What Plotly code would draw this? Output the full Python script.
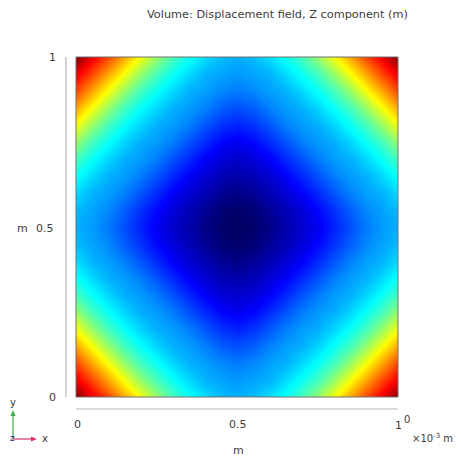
import numpy as np
import plotly.graph_objects as go

# Grid coordinates (x in 1e-3 m, y in m), 0.05 spacing
x_vals = [0.00, 0.05, 0.10, 0.15, 0.20, 0.25, 0.30, 0.35, 0.40, 0.45, 0.50,
          0.55, 0.60, 0.65, 0.70, 0.75, 0.80, 0.85, 0.90, 0.95, 1.00]
y_vals = [0.00, 0.05, 0.10, 0.15, 0.20, 0.25, 0.30, 0.35, 0.40, 0.45, 0.50,
          0.55, 0.60, 0.65, 0.70, 0.75, 0.80, 0.85, 0.90, 0.95, 1.00]

# Relative Z displacement on one quadrant of the symmetric field.
# Row k: |y - 0.5| = 0.05*k ; column m: |x - 0.5| = 0.05*m
quadrant_w = [
    [0.000, 0.009, 0.030, 0.059, 0.084, 0.113, 0.156, 0.201, 0.245, 0.276, 0.297],
    [0.009, 0.018, 0.042, 0.069, 0.095, 0.129, 0.173, 0.217, 0.258, 0.285, 0.309],
    [0.030, 0.042, 0.066, 0.090, 0.120, 0.164, 0.208, 0.251, 0.281, 0.301, 0.341],
    [0.059, 0.069, 0.090, 0.119, 0.161, 0.204, 0.248, 0.278, 0.299, 0.337, 0.386],
    [0.084, 0.095, 0.120, 0.161, 0.203, 0.246, 0.277, 0.298, 0.335, 0.383, 0.441],
    [0.113, 0.129, 0.164, 0.204, 0.246, 0.276, 0.297, 0.334, 0.382, 0.439, 0.523],
    [0.156, 0.173, 0.208, 0.248, 0.277, 0.297, 0.334, 0.381, 0.439, 0.522, 0.619],
    [0.201, 0.217, 0.251, 0.278, 0.298, 0.334, 0.381, 0.438, 0.521, 0.618, 0.713],
    [0.245, 0.258, 0.281, 0.299, 0.335, 0.382, 0.439, 0.521, 0.618, 0.713, 0.807],
    [0.276, 0.285, 0.301, 0.337, 0.383, 0.439, 0.522, 0.618, 0.713, 0.807, 0.890],
    [0.297, 0.309, 0.341, 0.386, 0.441, 0.523, 0.619, 0.713, 0.807, 0.890, 1.000],
]

# Mirror the quadrant into the full square grid
q = np.array(quadrant_w)
half = np.hstack([q[:, ::-1], q[:, 1:]])
w_full = np.vstack([half[::-1], half[1:]])

rainbow = [
    [0.000, "rgb(0,0,95)"],
    [0.125, "rgb(0,0,255)"],
    [0.375, "rgb(0,255,255)"],
    [0.500, "rgb(128,255,128)"],
    [0.625, "rgb(255,255,0)"],
    [0.875, "rgb(255,0,0)"],
    [1.000, "rgb(128,0,0)"],
]

W = H = 461

def px(x):
    return x / W

def py(y):
    return 1 - y / H

fig = go.Figure(go.Heatmap(
    x=x_vals, y=y_vals, z=w_full,
    colorscale=rainbow, zmin=0, zmax=1,
    zsmooth="best", showscale=False, hoverinfo="skip",
))

left, right, top, bottom = 76, 398, 57, 397

fig.update_layout(
    width=W, height=H,
    margin=dict(l=0, r=0, t=0, b=0),
    paper_bgcolor="white", plot_bgcolor="white",
    showlegend=False,
    xaxis=dict(domain=[px(left), px(right)], range=[0, 1], visible=False),
    yaxis=dict(domain=[py(bottom), py(top)], range=[0, 1], visible=False),
)


def tri_path(points):
    return "M " + " L ".join(f"{px(a)},{py(b)}" for a, b in points) + " Z"

shapes = [
    # frame round the field
    dict(type="rect", xref="paper", yref="paper",
         x0=px(left), x1=px(right), y0=py(bottom), y1=py(top),
         line=dict(color="#707070", width=1)),
    # axis lines
    dict(type="line", xref="paper", yref="paper",
         x0=px(66), x1=px(66), y0=py(top), y1=py(bottom),
         line=dict(color="#b4b4b4", width=1.2)),
    dict(type="line", xref="paper", yref="paper",
         x0=px(left), x1=px(right), y0=py(409), y1=py(409),
         line=dict(color="#b4b4b4", width=1.2)),
    # coordinate triad: y arrow
    dict(type="line", xref="paper", yref="paper",
         x0=px(13), x1=px(13), y0=py(439), y1=py(415),
         line=dict(color="#3fae49", width=1.2)),
    dict(type="path", xref="paper", yref="paper",
         path=tri_path([(13, 410), (10.5, 416), (15.5, 416)]),
         fillcolor="#3fae49", line=dict(width=0)),
    # coordinate triad: x arrow
    dict(type="line", xref="paper", yref="paper",
         x0=px(13), x1=px(32), y0=py(439), y1=py(439),
         line=dict(color="#d8336a", width=1.2)),
    dict(type="path", xref="paper", yref="paper",
         path=tri_path([(37, 439), (31, 436.5), (31, 441.5)]),
         fillcolor="#d8336a", line=dict(width=0)),
]
fig.update_layout(shapes=shapes)


def label(text, x, y, size=11, xanchor="center", color="#3c3c3c"):
    fig.add_annotation(text=text, x=px(x), y=py(y), xref="paper", yref="paper",
                       showarrow=False, xanchor=xanchor, yanchor="middle",
                       font=dict(family="DejaVu Sans", size=size, color=color))

label("Volume: Displacement field, Z component (m)", 410, 15, size=11.3, xanchor="right")

# y tick labels and unit
label("1", 52, 57)
label("0.5", 45, 228)
label("0", 52, 397)
label("m", 22, 228)

# x tick labels and unit
label("0", 77, 424)
label("0.5", 238, 424)
label("1", 398, 425)
label("0", 407, 419, size=10)
label("×10<sup>-3</sup> m", 432, 438, size=10)
label("m", 238, 450)

# triad axis names
label("y", 13, 402, size=10)
label("x", 45, 438, size=10)
label("z", 12, 438, size=9, color="#1b2a7a")

fig.write_html("out.html")
